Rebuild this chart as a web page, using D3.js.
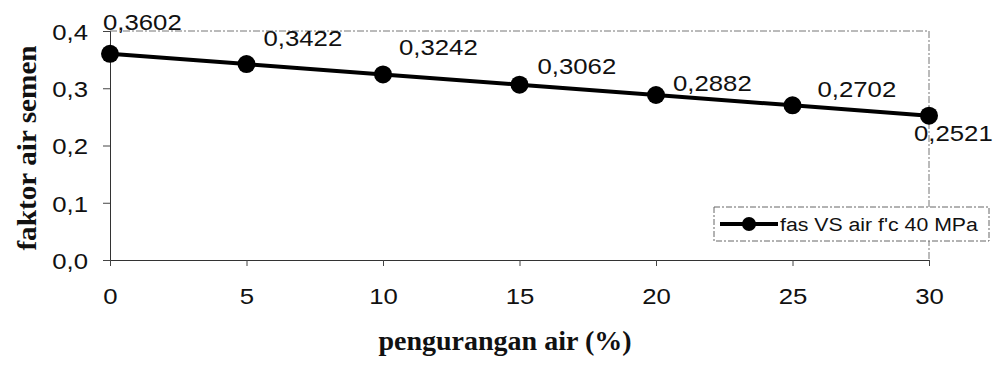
<!DOCTYPE html>
<html>
<head>
<meta charset="utf-8">
<script src="https://cdn.jsdelivr.net/npm/d3@7/dist/d3.min.js"></script>
<style>
  html, body { margin: 0; padding: 0; background: #fff; }
  svg { display: block; }
</style>
</head>
<body>
<div id="chart"></div>
<script>
// water reduction (%) vs water-cement ratio, f'c 40 MPa
const reduction = [0, 5, 10, 15, 20, 25, 30];
const fas = [0.3602, 0.3422, 0.3242, 0.3062, 0.2882, 0.2702, 0.2521];
const valueLabels = ["0,3602", "0,3422", "0,3242", "0,3062", "0,2882", "0,2702", "0,2521"];
const xTicks = [0, 5, 10, 15, 20, 25, 30];
const yTicks = [0, 0.1, 0.2, 0.3, 0.4];
const seriesName = "fas VS air f'c 40 MPa";
const xTitle = "pengurangan air (%)";
const yTitle = "faktor air semen";

// hand-placed offsets of each value label from its point (dx, dy of baseline)
const labelOffsets = [[-7, -24], [17, -18], [16, -19], [18, -11], [17, -4], [25, -8], [-15, 25]];

const W = 996, H = 365;
const plot = { left: 110, top: 31, right: 929, bottom: 260 };
const sans = "Arial, 'Liberation Sans', sans-serif";
const serif = "'Times New Roman', 'Liberation Serif', serif";
const stretch = 1.12; // text in this chart is drawn slightly wide

const svg = d3.select("#chart").append("svg")
  .attr("width", W).attr("height", H);

const x = d3.scaleLinear().domain([0, 30]).range([plot.left, plot.right]);
const y = d3.scaleLinear().domain([0, 0.4]).range([plot.bottom, plot.top]);

const fmtY = d => d.toFixed(1).replace(".", ",");

// plot frame: dashed top/right border
svg.append("path")
  .attr("d", `M${plot.left},${plot.top}H${plot.right}V${plot.bottom}`)
  .attr("fill", "none").attr("stroke", "#777").attr("stroke-width", 1)
  .attr("stroke-dasharray", "7,2,2,2");

// y axis
const yAxis = svg.append("g")
  .attr("transform", `translate(${plot.left},0)`)
  .call(d3.axisLeft(y).tickValues(yTicks).tickFormat(fmtY).tickSize(7).tickPadding(15));
yAxis.select(".domain").attr("stroke", "#333");
yAxis.selectAll(".tick line").attr("stroke", "#444");
yAxis.selectAll(".tick text")
  .attr("font-family", sans)
  .attr("font-size", 23).attr("fill", "#111")
  .attr("dy", "0.36em")
  .attr("transform", function () {
    const xx = +d3.select(this).attr("x");
    return `translate(${xx},0) scale(${stretch},1) translate(${-xx},0)`;
  });

// x axis
const xAxis = svg.append("g")
  .attr("transform", `translate(0,${plot.bottom})`)
  .call(d3.axisBottom(x).tickValues(xTicks).tickFormat(d => d).tickSize(6).tickPadding(22));
xAxis.select(".domain").attr("stroke", "#333");
xAxis.selectAll(".tick line").attr("stroke", "#444");
xAxis.selectAll(".tick text")
  .attr("font-family", sans)
  .attr("font-size", 23).attr("fill", "#111")
  .attr("transform", `scale(${stretch},1)`);

// series line
const line = d3.line().x((d, i) => x(reduction[i])).y(d => y(d));
svg.append("path")
  .datum(fas)
  .attr("d", line)
  .attr("fill", "none").attr("stroke", "#000").attr("stroke-width", 4);

svg.selectAll("circle.pt")
  .data(fas)
  .join("circle")
  .attr("class", "pt")
  .attr("cx", (d, i) => x(reduction[i]))
  .attr("cy", d => y(d))
  .attr("r", 9)
  .attr("fill", "#000");

// value labels
svg.selectAll("text.val")
  .data(fas)
  .join("text")
  .attr("class", "val")
  .attr("font-family", sans)
  .attr("font-size", 23).attr("fill", "#111")
  .attr("transform", (d, i) => {
    const tx = x(reduction[i]) + labelOffsets[i][0];
    const ty = y(d) + labelOffsets[i][1];
    return `translate(${tx},${ty}) scale(${stretch},1)`;
  })
  .text((d, i) => valueLabels[i]);

// axis titles
svg.append("text")
  .attr("transform", `translate(505,350)`)
  .attr("text-anchor", "middle")
  .attr("font-family", serif)
  .attr("font-weight", "bold").attr("font-size", 28).attr("fill", "#111")
  .text(xTitle);

svg.append("text")
  .attr("transform", `translate(36,148) rotate(-90) scale(1.045,1)`)
  .attr("text-anchor", "middle")
  .attr("font-family", serif)
  .attr("font-weight", "bold").attr("font-size", 28).attr("fill", "#111")
  .text(yTitle);

// legend
const lg = svg.append("g").attr("transform", "translate(714,207)");
lg.append("rect")
  .attr("width", 275).attr("height", 34)
  .attr("fill", "#fff").attr("stroke", "#666").attr("stroke-width", 1)
  .attr("stroke-dasharray", "6,2,2,2");
lg.append("line")
  .attr("x1", 6).attr("x2", 64).attr("y1", 17).attr("y2", 17)
  .attr("stroke", "#000").attr("stroke-width", 4);
lg.append("circle").attr("cx", 35).attr("cy", 17).attr("r", 7).attr("fill", "#000");
lg.append("text")
  .attr("transform", "translate(66,24) scale(1.12,1)")
  .attr("font-family", sans)
  .attr("font-size", 19).attr("fill", "#111")
  .text(seriesName);
</script>
</body>
</html>
